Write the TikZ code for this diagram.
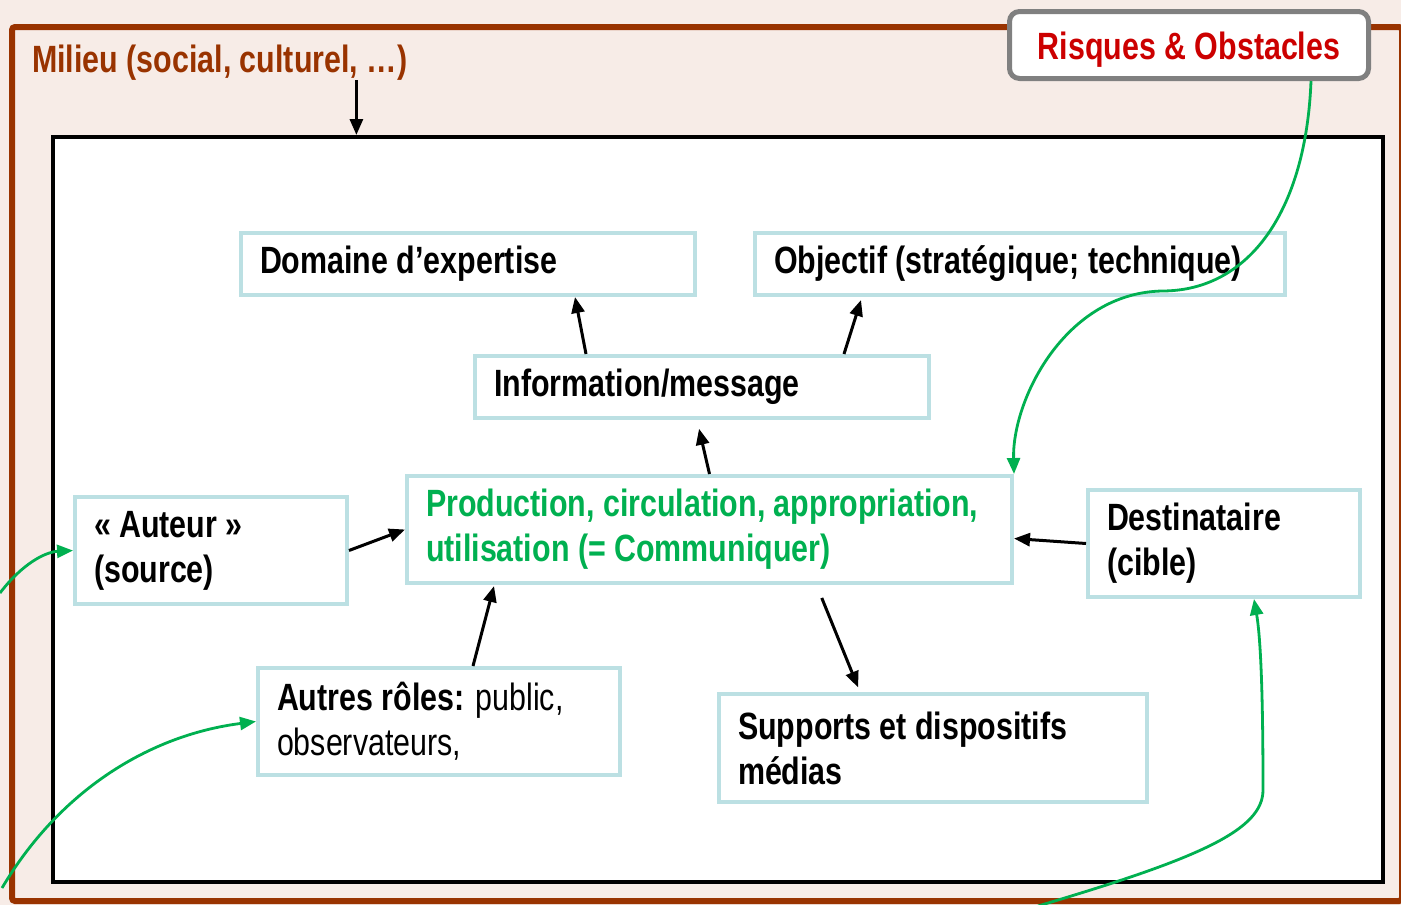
\documentclass[tikz,border=0pt]{standalone}
\usepackage{fontspec}
\setmainfont{Liberation Sans}[FakeStretch=0.8]
\usetikzlibrary{arrows.meta}

\definecolor{fondrose}{HTML}{F7ECE7}
\definecolor{brique}{HTML}{993300}
\definecolor{bleuclair}{HTML}{BCE0E3}
\definecolor{vertcom}{HTML}{00B050}
\definecolor{rouge}{HTML}{CC0000}

\begin{document}
\begin{tikzpicture}[x=1pt, y=-1pt,
  every node/.style={font=\fontsize{38pt}{45pt}\selectfont\bfseries},
  boite/.style={draw=bleuclair, line width=4pt, fill=white, anchor=north west,
    align=left, inner xsep=19pt, inner ysep=2pt,
    execute at begin node={\spaceskip=0pt\xspaceskip=0pt}},
  fleche/.style={-{Triangle[length=16pt, width=13pt]}, line width=3pt},
  vert/.style={-{Triangle[length=16pt, width=13pt]}, line width=2.8pt, draw=vertcom}]
\useasboundingbox (0,0) rectangle (1401,905);
\fill[fondrose] (0,0) rectangle (1401,905);
\draw[brique, line width=6pt, rounded corners=3pt] (12,27) rectangle (1402,901);
\node[draw, line width=4pt, fill=white, anchor=north west, minimum width=1330pt, minimum height=745pt, inner sep=0pt] (cadre) at (51,135) {};
\node[text=brique, anchor=base west, inner sep=0pt] (milieu) at (32,72) {Milieu (social, culturel, …)};
\node[draw=gray, line width=5pt, rounded corners=10pt, fill=white, text=rouge, minimum width=359pt, minimum height=67pt, text height=28pt, text depth=0pt] (risques) at (1189,45) {Risques \& Obstacles};

% boites
\node[boite, text width=416pt, minimum height=62pt] (domaine) at (239,231) {Domaine d’expertise};
\node[boite, text width=492pt, minimum height=62pt] (objectif) at (753,231) {Objectif (stratégique; technique)};
\node[boite, text width=416pt, minimum height=62pt] (info) at (473,354) {Information/message};
\node[boite, text width=567pt, minimum height=107pt, text=vertcom] (prod) at (405,474) {Production, circulation, appropriation,\\utilisation (= Communiquer)};
\node[boite, text width=234pt, minimum height=107pt] (auteur) at (73,495) {« Auteur »\\(source)};
\node[boite, text width=234pt, minimum height=107pt] (dest) at (1086,488) {Destinataire\\(cible)};
\node[boite, text width=324pt, minimum height=107pt] (autres) at (256,666) {Autres rôles: \mdseries public,\\observateurs,};
\node[boite, text width=390pt, minimum height=108pt] (supports) at (717,692) {Supports et dispositifs\\médias};

% fleches noires
\draw[fleche] ([xshift=-51pt]milieu.south east) -- ([xshift=-51pt]milieu.south east |- cadre.north);
\draw[fleche] ([xshift=113pt]info.north west) -- ([xshift=107pt]domaine.south);
\draw[fleche] ([xshift=371pt]info.north west) -- ([xshift=108pt, yshift=-3pt]objectif.south west);
\draw[fleche, shorten >=9pt] (prod.north) -- ([xshift=-5pt]info.south);
\draw[fleche] (auteur.east) -- (prod.west);
\draw[fleche] (dest.west) -- ([yshift=-9pt]prod.east);
\draw[fleche] ([xshift=217pt]autres.north west) -- ([xshift=89pt, yshift=-1pt]prod.south west);
\draw[fleche, shorten <=14pt, shorten >=5pt] ([xshift=107pt]prod.south) -- ([xshift=143pt]supports.north west);

% fleches vertes
\coordinate (bordg1) at (0,593);
\coordinate (bordg2) at (2,888);
\coordinate (bordb) at (1038,906);
\draw[vert] (risques.south -| 1311,0) .. controls (1306,210) and (1250,291) .. (1162,291)
  .. controls (1065,293) and (1012,400) .. (prod.north east);
\draw[vert] (bordg1) .. controls (22,564) and (45,552) .. (auteur.west);
\draw[vert] (bordg2) .. controls (60,790) and (150,735) .. (autres.west);
\draw[vert] (bordb) .. controls (1200,858) and (1263,830) .. (1263,790)
  .. controls (1263,700) and (1261,640) .. ([xshift=30pt]dest.south);
\end{tikzpicture}
\end{document}
